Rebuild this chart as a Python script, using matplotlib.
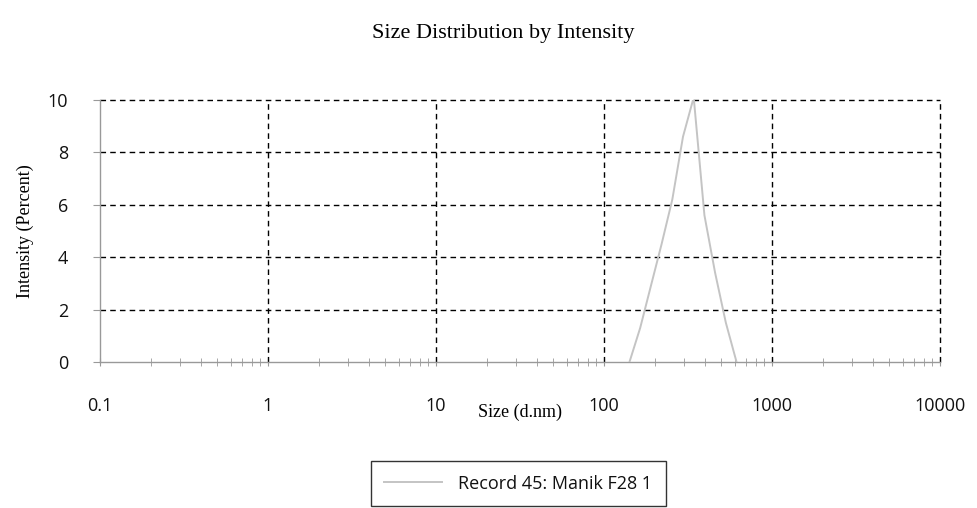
import matplotlib
matplotlib.use("Agg")
import matplotlib.pyplot as plt
from matplotlib.ticker import LogLocator, FixedLocator, NullFormatter

sizes = [141.8, 164.2, 190.1, 220.2, 255.0, 295.3, 342.0, 396.1, 458.7, 531.2, 615.1]
intensity = [0.0, 1.3, 2.9, 4.5, 6.2, 8.6, 10.1, 5.6, 3.4, 1.5, 0.0]
series_label = "Record 45: Manik F28 1"
x_ticks = [0.1, 1, 10, 100, 1000, 10000]
x_ticklabels = ["0.1", "1", "10", "100", "1000", "10000"]
y_ticks = [0, 2, 4, 6, 8, 10]

fig = plt.figure(figsize=(9.78, 5.08), dpi=100)
ax = fig.add_axes([100/978, 1-362/508, 840/978, 262/508])

ax.plot(sizes, intensity, color="#c4c4c4", lw=1.4, label=series_label, zorder=3)
ax.set_xscale("log")
ax.set_xlim(0.1, 10000)
ax.set_ylim(0, 10)

ax.xaxis.set_major_locator(FixedLocator(x_ticks))
ax.set_xticklabels(x_ticklabels)
ax.xaxis.set_minor_locator(LogLocator(base=10, subs=range(2, 10), numticks=50))
ax.xaxis.set_minor_formatter(NullFormatter())
ax.set_yticks(y_ticks)

grid_style = dict(color="black", ls=(0, (4, 3)), lw=1.0, clip_on=False, zorder=2)
for yv in y_ticks[1:]:
    ax.axhline(yv, **grid_style)
for xv in x_ticks[1:]:
    ax.axvline(xv, **grid_style)

for s in ["top", "right"]:
    ax.spines[s].set_visible(False)
for s in ["left", "bottom"]:
    ax.spines[s].set_color("#999999")
    ax.spines[s].set_linewidth(1.0)

ax.tick_params(axis="x", which="both", direction="inout", length=6, color="#999999",
               pad=22, labelsize=13, labelcolor="#111111")
ax.tick_params(axis="y", which="major", direction="out", length=5, color="#999999",
               pad=18, labelsize=13, labelcolor="#111111")
for lab in ax.get_xticklabels() + ax.get_yticklabels():
    lab.set_fontfamily(["Open Sans", "DejaVu Sans"])

ax.set_xlabel("Size (d.nm)", fontfamily="Liberation Serif", fontsize=13, labelpad=-8)
ax.set_ylabel("Intensity (Percent)", fontfamily="Liberation Serif", fontsize=13, labelpad=10)
fig.text(0.515, 0.935, "Size Distribution by Intensity", ha="center", va="center",
         fontfamily="Liberation Serif", fontsize=16)

leg = fig.legend(loc="center", bbox_to_anchor=(0.53, 0.048),
                 prop={"family": "Open Sans", "size": 13},
                 frameon=True, fancybox=False, edgecolor="black",
                 handlelength=3.2, handletextpad=0.9, borderpad=0.75,
                 borderaxespad=0.0)
leg.get_frame().set_linewidth(1.0)
for t in leg.get_texts():
    t.set_color("#111111")

fig.savefig("out.png", dpi=100)
